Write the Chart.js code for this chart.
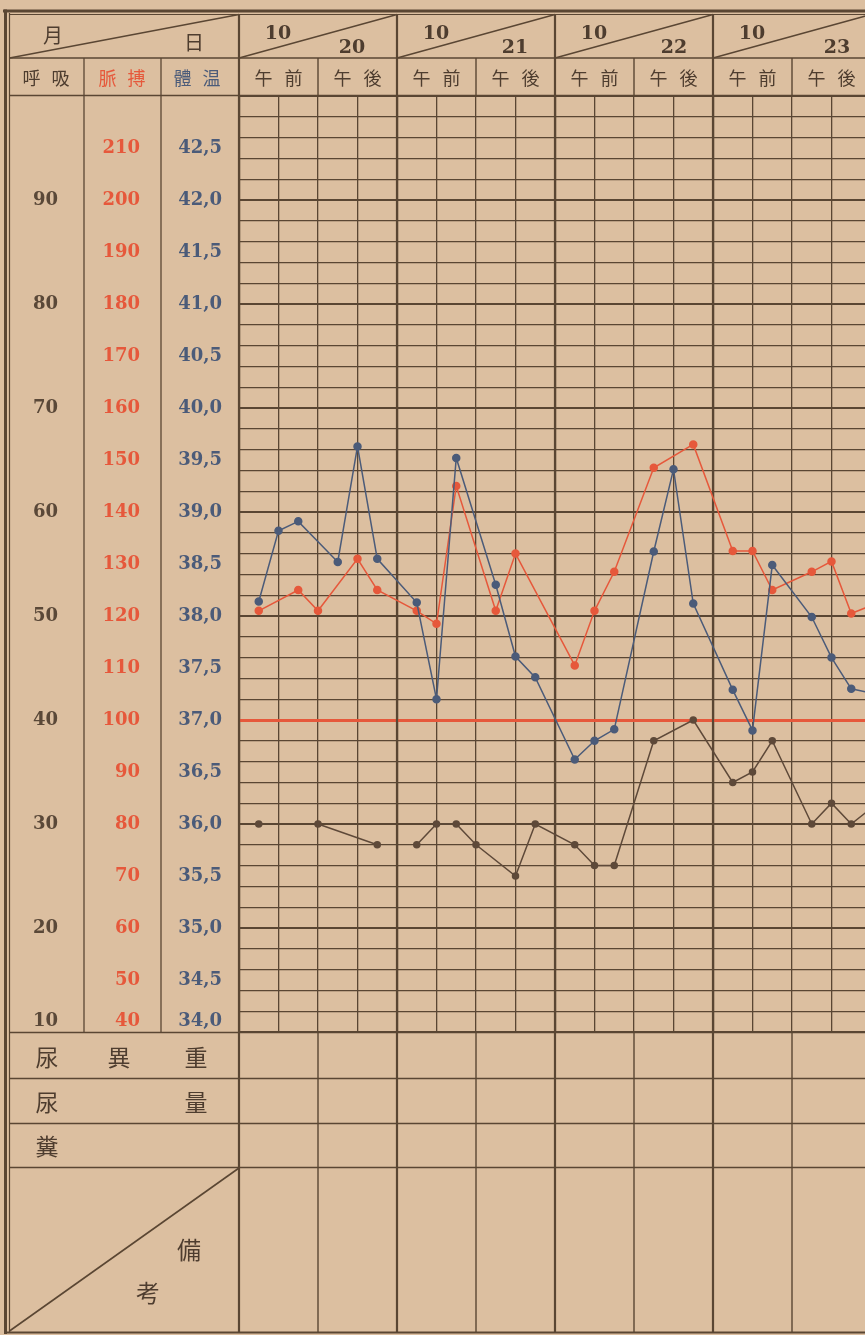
<!DOCTYPE html>
<html><head><meta charset="utf-8">
<script src="https://cdn.jsdelivr.net/npm/chart.js@4/dist/chart.umd.min.js"></script>
<style>
html,body{margin:0;padding:0;overflow:hidden;background:#dcbfa0;width:865px;height:1335px;}
#wrap{position:relative;width:880px;height:1335px;}
canvas{position:absolute;left:0;top:0;}
.t{position:absolute;transform:translate(-50%,-50%);white-space:nowrap;font-family:"Noto Sans CJK JP";color:#4e3d2f;line-height:1;font-size:19px;}
.n{font-family:"DejaVu Serif";font-weight:bold;font-size:19px;}
</style></head><body>
<div id="wrap"><canvas id="c" width="880" height="1335"></canvas></div>
<script>
// ---- data ----
const month = '10';
const days = ['20', '21', '22', '23'];
const halves = ['午前', '午後'];
const tempSlots  = [1, 2, 3, 5, 6, 7, 9, 10, 11, 13, 14, 15, 17, 18, 19, 21, 22, 23, 25, 26, 27, 29, 30, 31, 33];
const tempValues = [38.14, 38.82, 38.91, 38.52, 39.63, 38.55, 38.13, 37.2, 39.52, 38.3, 37.61, 37.41, 36.62, 36.8, 36.91, 38.62, 39.41, 38.12, 37.29, 36.9, 38.49, 37.99, 37.6, 37.3, 37.22];
const pulseSlots  = [1, 3, 4, 6, 7, 9, 10, 11, 13, 14, 17, 18, 19, 21, 23, 25, 26, 27, 29, 30, 31, 33];
const pulseValues = [121, 125, 121, 131, 125, 121, 118.5, 145, 121, 132, 110.5, 121, 128.5, 148.5, 153, 132.5, 132.5, 125, 128.5, 130.5, 120.5, 123.5];
const respSlots  = [1, 2, 4, 7, 8, 9, 10, 11, 12, 14, 15, 17, 18, 19, 21, 23, 25, 26, 27, 29, 30, 31, 33];
const respValues = [30, null, 30, 28, null, 28, 30, 30, 28, 25, 30, 28, 26, 26, 38, 40, 34, 35, 38, 30, 32, 30, 33];
const tempTicks  = [34.0, 34.5, 35.0, 35.5, 36.0, 36.5, 37.0, 37.5, 38.0, 38.5, 39.0, 39.5, 40.0, 40.5, 41.0, 41.5, 42.0, 42.5];
const pulseTicks = [40, 50, 60, 70, 80, 90, 100, 110, 120, 130, 140, 150, 160, 170, 180, 190, 200, 210];
const respTicks  = [10, 20, 30, 40, 50, 60, 70, 80, 90];

// ---- style ----
const LINE = '#5a4633', RED = '#e6583b', BLUE = '#4b5b79', RESP = '#5e4939', TXT = '#4e3d2f';
const SLOTS_PER_DAY = 8;

const pts = (s, v) => s.map((x, i) => ({x: x, y: v[i]}));
const setTicks = arr => axis => { axis.ticks = arr.map(v => ({value: v})); };
const lastTwoLine = (bottom, fmt) => v => (v === bottom ? [fmt(v), ''] : fmt(v));

const frame = {
  id: 'frame',
  beforeDatasetsDraw(chart) {
    const c = chart.ctx, x = chart.scales.x, W = chart.width;
    const L = chart.chartArea.left, T = chart.chartArea.top, B = chart.chartArea.bottom;
    const seg = (x1, y1, x2, y2, w) => { c.beginPath(); c.lineWidth = w; c.moveTo(x1, y1); c.lineTo(x2, y2); c.stroke(); };
    c.save(); c.strokeStyle = LINE;
    seg(3, 11, W, 11, 3); seg(9, 14.5, W, 14.5, 1.2);
    seg(5.5, 9.5, 5.5, 1334, 3); seg(9.5, 13, 9.5, 1333, 1.2);
    seg(4, 1332.5, W, 1332.5, 2);
    [58, 95.5, B + 0.5, 1078.5, 1123.5, 1167.5].forEach(y => seg(9.5, y, W, y, 1.6));
    seg(84, 58, 84, B, 1.3); seg(161, 58, 161, B, 1.3);
    seg(L, 14, L, 1332, 2.2);
    for (let d = 1; d <= days.length; d++) { const p = x.getPixelForValue(d * SLOTS_PER_DAY); seg(p, 14, p, 1332, 2.2); }
    for (let d = 0; d < days.length; d++) {
      const p = x.getPixelForValue(d * SLOTS_PER_DAY + SLOTS_PER_DAY / 2);
      seg(p, 58, p, T, 1.4); seg(p, B, p, 1332, 1.4);
    }
    seg(9.5, 58, L, 14.5, 1.4);
    for (let d = 0; d < days.length; d++) {
      seg(x.getPixelForValue(d * SLOTS_PER_DAY), 58, x.getPixelForValue((d + 1) * SLOTS_PER_DAY), 14.5, 1.4);
    }
    seg(9.5, 1331, L, 1168, 1.6);
    c.restore();
  }
};

const tickFont = {family: 'DejaVu Serif', weight: 'bold', size: 18, lineHeight: 1.2};
const labelAxis = (min, max, ticksArr, color, pad, width, weight, fmt) => ({
  type: 'linear', position: 'left', min: min, max: max, weight: weight,
  grid: {display: false, drawTicks: false}, border: {display: false},
  afterBuildTicks: setTicks(ticksArr),
  afterFit: a => { a.width = width; },
  ticks: {autoSkip: false, color: color, font: tickFont, padding: pad, crossAlign: 'near',
          callback: lastTwoLine(ticksArr[0], fmt)}
});

const chart = new Chart(document.getElementById('c'), {
  type: 'line',
  data: {datasets: [
    {label: '體温', data: pts(tempSlots, tempValues), yAxisID: 'yTemp', borderColor: BLUE, backgroundColor: BLUE,
     pointBackgroundColor: BLUE, pointBorderColor: BLUE, borderWidth: 1.5, pointRadius: 3.5, tension: 0},
    {label: '脈搏', data: pts(pulseSlots, pulseValues), yAxisID: 'yPulse', borderColor: RED, backgroundColor: RED,
     pointBackgroundColor: RED, pointBorderColor: RED, borderWidth: 1.5, pointRadius: 3.5, tension: 0},
    {label: '呼吸', data: pts(respSlots, respValues), yAxisID: 'yResp', borderColor: RESP, backgroundColor: RESP,
     pointBackgroundColor: RESP, pointBorderColor: RESP, borderWidth: 1.5, pointRadius: 3, tension: 0, spanGaps: false}
  ]},
  options: {
    responsive: false, animation: false, devicePixelRatio: 1,
    layout: {padding: {left: 8, top: 96, right: 9, bottom: 303}},
    plugins: {legend: {display: false}, tooltip: {enabled: false}},
    scales: {
      x: {type: 'linear', min: 0, max: days.length * SLOTS_PER_DAY, position: 'bottom',
          ticks: {display: false, stepSize: 2}, border: {display: false},
          grid: {drawTicks: false, color: LINE,
                 lineWidth: c => (c.tick && c.tick.value % SLOTS_PER_DAY === 0 ? 2.2 : 1.3)},
          afterFit: a => { a.height = 0; }},
      yGrid: {type: 'linear', position: 'left', min: 34, max: 43, weight: 0,
          ticks: {display: false, stepSize: 0.2}, border: {display: false},
          grid: {drawTicks: false,
                 color: c => (c.tick && Math.abs(c.tick.value - 37) < 1e-6 ? RED : LINE),
                 lineWidth: c => {
                   const v = c.tick ? c.tick.value : 0;
                   if (Math.abs(v - 37) < 1e-6) return 3;
                   return Math.abs(v - Math.round(v)) < 1e-6 ? 2 : 1.2;
                 }},
          afterFit: a => { a.width = 0; }},
      yTemp: labelAxis(34, 43, tempTicks, BLUE, 17, 78, 1, v => v.toFixed(1).replace('.', ',')),
      yPulse: labelAxis(40, 220, pulseTicks, RED, 21, 77, 2, v => String(v)),
      yResp: labelAxis(10, 100, respTicks, '#5a4838', 26, 76, 3, v => String(v))
    }
  },
  plugins: [frame]
});

// ---- text overlays ----
const wrap = document.getElementById('wrap');
function put(txt, cx, cy, o) {
  o = o || {};
  const el = document.createElement('div');
  el.className = 't' + (o.num ? ' n' : '');
  el.textContent = txt;
  el.style.left = cx + 'px'; el.style.top = cy + 'px';
  if (o.size) el.style.fontSize = o.size + 'px';
  if (o.color) el.style.color = o.color;
  if (o.sp) { el.style.letterSpacing = o.sp + 'px'; el.style.paddingLeft = o.sp + 'px'; }
  wrap.appendChild(el);
}
put('月', 53, 35, {size: 20});
put('日', 194, 42, {size: 20});
put('呼吸', 46, 77, {size: 18, sp: 11});
put('脈搏', 122, 77, {size: 18, sp: 11, color: RED});
put('體温', 197, 77, {size: 18, sp: 11, color: BLUE});
const xs = chart.scales.x;
const dayNumOffset = [113, 118, 119, 124];
days.forEach((d, i) => {
  const left = xs.getPixelForValue(i * SLOTS_PER_DAY);
  put(month, left + 39, 32, {num: true});
  put(d, left + dayNumOffset[i], 45.5, {num: true});
  halves.forEach((h, j) => {
    const cx = xs.getPixelForValue(i * SLOTS_PER_DAY + j * 4 + 2);
    put(h, cx, 77, {size: 18, sp: 12});
  });
});
put('尿', 47, 1056, {size: 23});
put('異', 119, 1056, {size: 23});
put('重', 196, 1056, {size: 23});
put('尿', 47, 1101, {size: 23});
put('量', 196, 1101, {size: 23});
put('糞', 47, 1145, {size: 23});
put('備', 189, 1249, {size: 24});
put('考', 148, 1292, {size: 24});
</script>
</body></html>
